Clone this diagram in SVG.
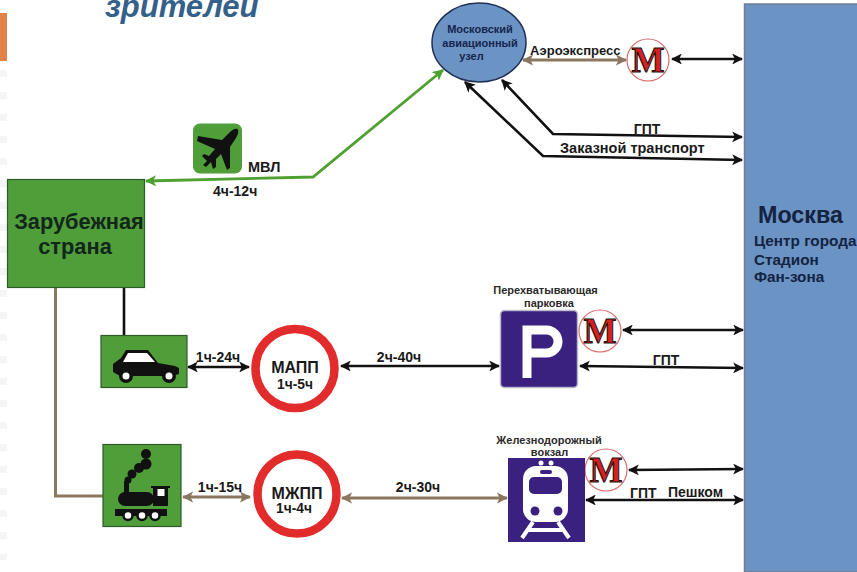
<svg xmlns="http://www.w3.org/2000/svg" width="857" height="572" viewBox="0 0 857 572">
<style>
text{font-family:"Liberation Sans",Arial,sans-serif;font-weight:bold;fill:#1a1a1a;font-size:14px}
.m{text-anchor:middle}
.k{fill:none;stroke:#111;stroke-width:2.6}
.b{fill:none;stroke:#8b7760;stroke-width:3}
.g{fill:none;stroke:#4ea030;stroke-width:2.8}
.green{fill:#4f9e3a;stroke:#2e5a28;stroke-width:1.2}
.ring{fill:#fff;stroke:#e22b2b;stroke-width:8.500}
.mr{fill:#fff;stroke:#d96a6a;stroke-width:1.200}
.mt{font-family:"Liberation Serif",serif;font-size:35px;fill:#d92020;stroke:#111;stroke-width:1;text-anchor:middle}
.pur{fill:#3a2180}
.ic{fill:#111}
.hub{font-size:11px;fill:#16254d}
.cap{font-size:11px;fill:#2a2a2a}
.ms{font-size:15.300px;fill:#14233f}
.st{font-size:21.800px;fill:#13261a}
</style>
<defs>
<marker id="ak" viewBox="0 0 10 10" refX="9" refY="5" markerWidth="4.2" markerHeight="4.2" orient="auto-start-reverse"><path d="M0 0L10 5L0 10L2.5 5Z" fill="#111"/></marker>
<marker id="ab" viewBox="0 0 10 10" refX="9" refY="5" markerWidth="3.8" markerHeight="3.8" orient="auto-start-reverse"><path d="M0 0L10 5L0 10L2.5 5Z" fill="#8b7760"/></marker>
<marker id="ag" viewBox="0 0 10 10" refX="9" refY="5" markerWidth="4" markerHeight="4" orient="auto-start-reverse"><path d="M0 0L10 5L0 10L2.5 5Z" fill="#4ea030"/></marker>
<g id="metro"><circle r="21" class="mr"/><text class="mt" y="11.500">М</text></g>
</defs>
<rect width="857" height="572" fill="#fff"/>
<path d="M3.500 70V560" stroke="#f5f5f5" stroke-width="7" stroke-dasharray="7 15" fill="none"/>
<rect x="0" y="13" width="7" height="48" fill="#e0824a"/>
<text x="105" y="17" style="font-size:31px;font-style:italic;fill:#35608a">зрителей</text>

<g id="connectors">
<path class="g" marker-start="url(#ag)" marker-end="url(#ag)" d="M146 181L313 177L443 70"/>
<path class="b" marker-start="url(#ab)" marker-end="url(#ab)" d="M523 60L626 60"/>
<path class="k" marker-start="url(#ak)" marker-end="url(#ak)" d="M672 59L742 59"/>
<path class="k" marker-end="url(#ak)" marker-start="url(#ak)" d="M502 80L553 134L742 137"/>
<path class="k" marker-end="url(#ak)" marker-start="url(#ak)" d="M465 82L543 156L742 160"/>
<path class="k" d="M124 288V336"/>
<path class="b" d="M55.500 288V496H103"/>
<path class="k" marker-start="url(#ak)" marker-end="url(#ak)" d="M188 367L249 367"/>
<path class="k" marker-start="url(#ak)" marker-end="url(#ak)" d="M341 366L499 366"/>
<path class="b" marker-start="url(#ab)" marker-end="url(#ab)" d="M183 497L250 497"/>
<path class="b" marker-start="url(#ab)" marker-end="url(#ab)" d="M342 498L507 498"/>
<path class="k" marker-start="url(#ak)" marker-end="url(#ak)" d="M623 330L743 330"/>
<path class="k" marker-start="url(#ak)" marker-end="url(#ak)" d="M580 366L743 368"/>
<path class="k" marker-start="url(#ak)" marker-end="url(#ak)" d="M629 470L743 469"/>
<path class="k" marker-start="url(#ak)" marker-end="url(#ak)" d="M586 500L743 500"/>
</g>

<g id="moscow"><rect x="744.500" y="4" width="120" height="568" fill="#6b93c4" stroke="#6f7f92" stroke-width="1.500"/>
<text x="758" y="223" style="font-size:23.300px;fill:#14233f">Москва</text>
<text x="754" y="246" class="ms">Центр города</text>
<text x="754" y="265" class="ms">Стадион</text>
<text x="754" y="282" class="ms">Фан-зона</text></g>

<g id="hub"><ellipse cx="479" cy="42.500" rx="47" ry="39.500" fill="#6b93c4" stroke="#1f2f55" stroke-width="1.500"/>
<text class="m hub" x="480" y="33">Московский</text>
<text class="m hub" x="480" y="47">авиационный</text>
<text class="m hub" x="471.500" y="60">узел</text></g>

<g id="metro1"><use href="#metro" x="648" y="60"/></g>
<g id="metro2"><use href="#metro" x="600" y="331"/></g>
<g id="metro3"><use href="#metro" x="606" y="470"/></g>

<g id="labels-top">
<text x="530" y="55" style="font-size:13px">Аэроэкспресс</text>
<text class="m" x="647" y="134">ГПТ</text>
<text x="560" y="153" style="font-size:14.500px">Заказной транспорт</text>
<text x="248" y="172" style="font-size:14.500px">МВЛ</text>
<text x="213" y="196">4ч-12ч</text>
</g>

<g id="plane"><rect x="193" y="123.500" width="49" height="50" rx="7" fill="#4f9e3a"/>
<path class="ic" d="M237.500 129C235 128 232 130 229 133L222 140L198 136L197 141L215 149L209 156L204 154L202 156L207 161L203 165L206 167L211 162L213 169L216 167L216 159L221 154L227 170L230 168L230 147L236 138C238 135 239 131 237.500 129Z"/></g>

<g id="foreign"><rect x="7.500" y="179.500" width="137" height="108" class="green"/>
<text class="m st" x="79" y="229">Зарубежная</text>
<text class="m st" x="75" y="254">страна</text></g>

<g id="car"><rect x="101" y="335.500" width="86" height="52" class="green"/>
<path class="ic" d="M113 372V364L121 358L126 350H148L158 363L175 366L179 368V374L172 376H120Z"/>
<path fill="#fff" d="M123 362L128 353H147L155 362Z"/>
<circle cx="126" cy="376" r="7" class="ic"/><circle cx="126" cy="376" r="3.500" fill="#fff"/>
<circle cx="169" cy="376" r="7" class="ic"/><circle cx="169" cy="376" r="3.500" fill="#fff"/></g>

<g id="train-loco"><rect x="103" y="444.500" width="78" height="82" class="green"/>
<circle cx="146" cy="454" r="5" class="ic"/><circle cx="146" cy="464" r="5.500" class="ic"/><circle cx="139" cy="468" r="5" class="ic"/><circle cx="132" cy="474" r="4.500" class="ic"/><circle cx="128" cy="480" r="3.500" class="ic"/>
<rect x="124" y="481" width="5" height="12" class="ic"/>
<rect x="118" y="492" width="36" height="14" rx="7" class="ic"/>
<rect x="153" y="487" width="15" height="19" class="ic"/>
<rect x="151" y="486" width="19" height="2" class="ic"/>
<rect x="157.500" y="489" width="7" height="7" fill="#fff"/>
<rect x="115" y="509" width="52" height="7" class="ic"/>
<circle cx="128" cy="515.500" r="4.500" fill="#fff" stroke="#111" stroke-width="2.500"/><circle cx="142" cy="515.500" r="4.500" fill="#fff" stroke="#111" stroke-width="2.500"/><circle cx="155" cy="515.500" r="4.500" fill="#fff" stroke="#111" stroke-width="2.500"/></g>

<g id="mapp"><circle cx="295" cy="368.500" r="39.500" class="ring"/>
<text class="m" x="295" y="373" style="font-size:16px">МАПП</text>
<text class="m" x="295" y="389" style="font-size:13.800px">1ч-5ч</text></g>
<g id="mzhpp"><circle cx="297" cy="494" r="39.500" class="ring"/>
<text class="m" x="297" y="499" style="font-size:16px">МЖПП</text>
<text class="m" x="294" y="513" style="font-size:13.800px">1ч-4ч</text></g>

<g id="labels-mid">
<text class="m" x="218" y="362">1ч-24ч</text>
<text class="m" x="399" y="362">2ч-40ч</text>
<text class="m" x="220" y="492">1ч-15ч</text>
<text class="m" x="418" y="492">2ч-30ч</text>
<text class="m" x="666" y="365">ГПТ</text>
<text x="630" y="498">ГПТ</text>
<text x="668" y="497">Пешком</text>
</g>

<g id="parking">
<text class="m cap" x="545.500" y="294">Перехватывающая</text>
<text class="m cap" x="549" y="307">парковка</text>
<rect x="500.500" y="310.500" width="77" height="77" rx="4" class="pur" stroke="#b9b9c9" stroke-width="1.500"/>
<path fill="none" stroke="#fff" stroke-width="9" d="M527 378V330H546.500A11.500 11.500 0 0 1 546.500 353H527"/>
</g>

<g id="station">
<text class="m cap" x="549" y="444">Железнодорожный</text>
<text class="m cap" x="549.500" y="456">вокзал</text>
<rect x="508" y="458" width="77" height="84" class="pur"/>
<circle cx="541" cy="463" r="2.500" fill="#fff"/><circle cx="551" cy="463" r="2.500" fill="#fff"/>
<rect x="523" y="466" width="45" height="56" rx="13" fill="#fff"/>
<rect x="529" y="477" width="33" height="17" rx="5" class="pur"/>
<rect x="540" y="470" width="12" height="4" rx="2" class="pur"/>
<circle cx="535" cy="511" r="4.500" class="pur"/><circle cx="558" cy="511" r="4.500" class="pur"/>
<path fill="none" stroke="#fff" stroke-width="4" d="M533 522L522 538M558 522L569 538M529 530H562"/>
</g>
</svg>
